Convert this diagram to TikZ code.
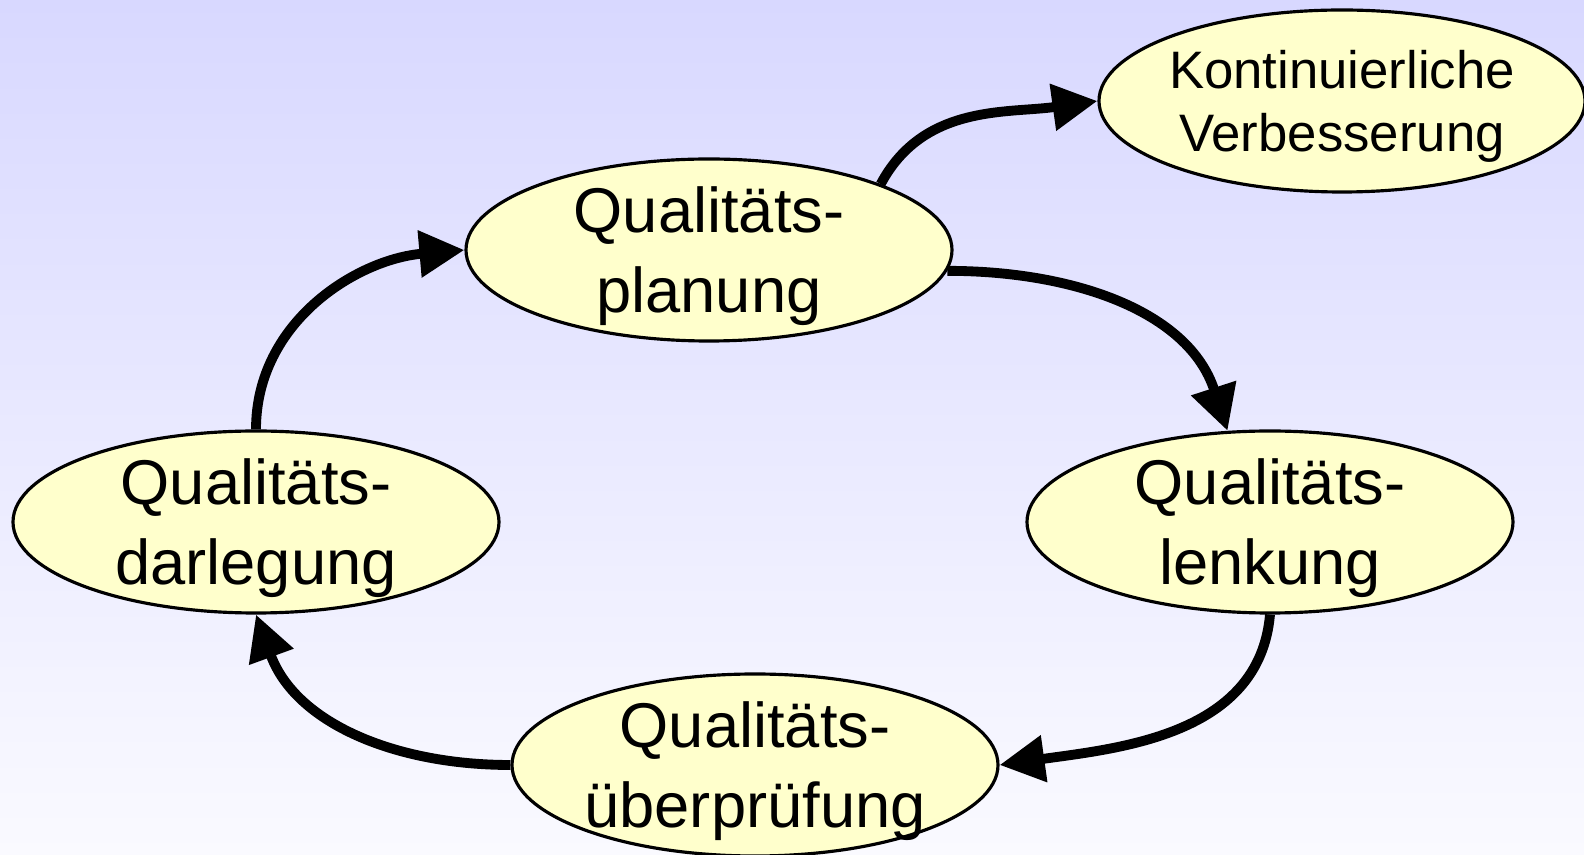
\documentclass[tikz,border=0pt]{standalone}
\usepackage{fontspec}
\setmainfont{Liberation Sans}
\usepackage{tikz}
\usetikzlibrary{shapes.geometric,arrows.meta}
\definecolor{bgtop}{RGB}{216,216,255}
\definecolor{bgbottom}{RGB}{250,250,255}
\definecolor{ovalfill}{RGB}{255,255,204}
\newcommand{\topstrut}{\rule{0pt}{0.93em}}

\begin{document}
\begin{tikzpicture}[
        oval/.style={ellipse, draw, line width=0.9pt, fill=ovalfill,
            minimum width=4.86cm, minimum height=1.82cm,
            inner xsep=-2cm, inner ysep=-1cm, align=center,
            font=\fontsize{18}{22.7}\selectfont},
        flow/.style={line width=2.8pt, -{Triangle[length=0.45cm, width=0.45cm]}}
    ]
            \useasboundingbox (0,0) rectangle (15.84,-8.55);
            \shade[top color=bgtop, bottom color=bgbottom] (0,0) rectangle (15.84,-8.55);
            %
            \node[oval] (planung) at (7.09,-2.50) {\topstrut Qualitäts-\\planung};
            \node[oval] (lenkung) at (12.70,-5.22) {\topstrut Qualitäts-\\lenkung};
            \node[oval] (pruefung) at (7.55,-7.65) {\topstrut Qualitäts-\\überprüfung};
            \node[oval] (darlegung) at (2.56,-5.22) {\topstrut Qualitäts-\\darlegung};
            \node[oval, font=\fontsize{15}{18}\selectfont] (verbesserung) at (13.42,-1.01) {\topstrut Kontinuierliche\\Verbesserung};
            %
            \draw[flow] (planung.21) to[out=62, in=188] (verbesserung.west);
            \draw[flow] (planung.-5) to[out=0, in=108] (lenkung.115);
            \draw[flow] (lenkung.south) to[out=-95, in=8] (pruefung.east);
            \draw[flow] (pruefung.west) to[out=180, in=-70] (darlegung.south);
            \draw[flow] (darlegung.north) to[out=90, in=185] (planung.west);
        \end{tikzpicture}
\end{document}
